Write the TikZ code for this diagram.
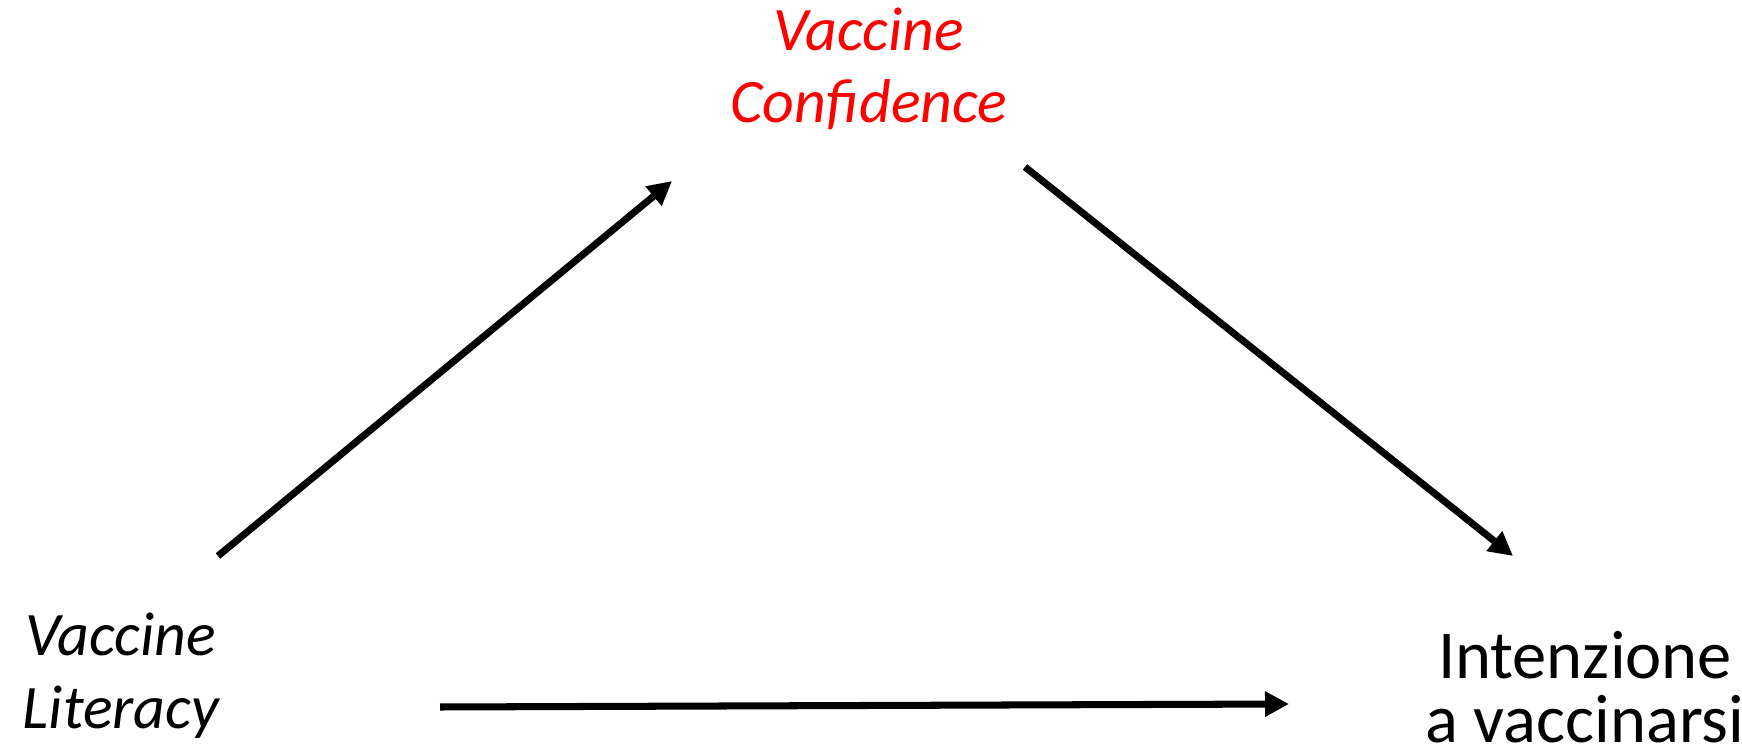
\documentclass[tikz,border=0pt]{standalone}
\usepackage{fontspec}
\setmainfont{Carlito}
\usetikzlibrary{arrows.meta}
\begin{document}
\begin{tikzpicture}[
    lbl/.style={align=center, anchor=base, inner sep=0pt},
    var/.style={lbl, font=\fontsize{17.6}{20.6}\selectfont\itshape},
    outc/.style={lbl, font=\fontsize{19.5}{18.2}\selectfont},
    arr/.style={line width=2pt, -{Triangle[length=2.4mm, width=2.4mm]}}
]
\useasboundingbox (0,0) rectangle (17.42,7.54);

% --- variables ---
\node[var] (vl) at (1.21,0.26) {Vaccine\\Literacy};
\node[var, text=red] (vc) at (8.69,6.31) {Vaccine\\Confidence};
\node[outc] (iv) at (15.85,0.12) {Intenzione\\a vaccinarsi};

% --- arrow ends ---
\coordinate (vl-up) at (2.18,1.98);
\coordinate (vc-in) at (6.72,5.73);
\coordinate (vc-out) at (10.25,5.87);
\coordinate (iv-up) at (15.13,1.98);
\coordinate (vl-right) at (4.40,0.47);
\coordinate (iv-left) at (12.89,0.50);

% --- paths ---
\draw[arr] (vl-up) -- (vc-in);
\draw[arr] (vc-out) -- (iv-up);
\draw[arr] (vl-right) -- (iv-left);

\end{tikzpicture}
\end{document}
